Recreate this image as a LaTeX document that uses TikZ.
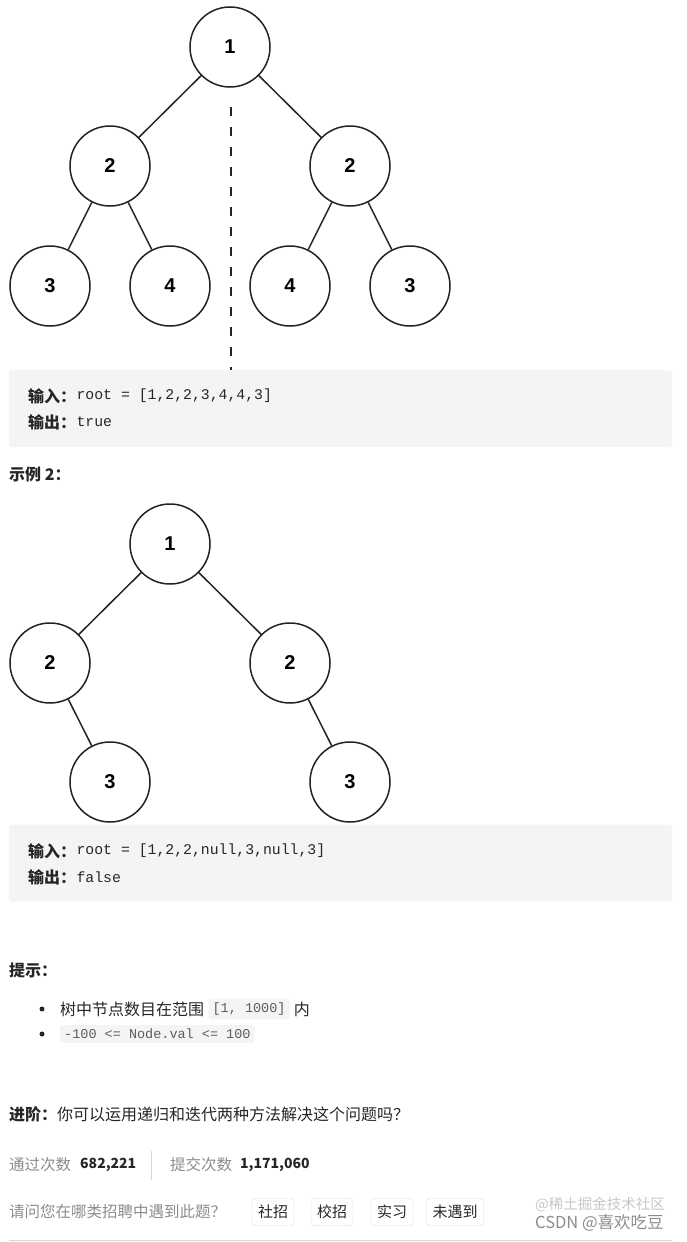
\documentclass[tikz,border=0pt]{standalone}
\usepackage{fontspec}
\setmainfont{Noto Sans CJK SC}
\setmonofont{Liberation Mono}
\newfontfamily\treefont{Liberation Sans}
\usetikzlibrary{positioning}
\definecolor{codebg}{RGB}{243,244,245}
\definecolor{ink}{RGB}{38,38,38}
\definecolor{mutedgray}{RGB}{140,140,140}
\definecolor{edgegray}{RGB}{35,35,35}
\definecolor{btnline}{RGB}{215,215,215}

\begin{document}
\begin{tikzpicture}[x=1pt, y=-1pt,
    tnode/.style={circle, draw=edgegray, line width=1.5pt, fill=white, minimum size=80pt, inner sep=0pt, font=\treefont\bfseries\fontsize{20}{20}\selectfont},
    edge/.style={draw=edgegray, line width=1.5pt},
    codebox/.style={fill=codebg, rounded corners=3pt, minimum width=663pt, minimum height=77pt, inner sep=0pt},
    txt/.style={anchor=west, inner sep=0pt, text=ink, font=\fontsize{16}{18}\selectfont},
    codetxt/.style={anchor=west, inner sep=0pt, text=ink, font=\ttfamily\fontsize{14.8}{16}\selectfont},
    small/.style={anchor=west, inner sep=0pt, text=ink, font=\fontsize{16}{18}\selectfont},
    muted/.style={anchor=west, inner sep=0pt, text=mutedgray, font=\fontsize{15.5}{18}\selectfont},
    num/.style={anchor=west, inner sep=0pt, text=ink, font=\bfseries\fontsize{14}{16}\selectfont},
    inlinecode/.style={fill=codebg, rounded corners=2pt, inner xsep=4pt, inner ysep=4pt, text=ink!75, font=\ttfamily\fontsize{13.5}{15}\selectfont},
    btn/.style={draw=btnline, rounded corners=3pt, minimum height=27pt, inner xsep=6pt, text=ink, font=\fontsize{15}{16}\selectfont},
    mirror/.style={draw=edgegray, line width=2.6pt, dash pattern=on 8.5pt off 11.5pt}
]
\useasboundingbox (0,0) rectangle (686,1242);

% Example 1 tree
\node[tnode] (root) at (230,47) {1};
\node[tnode] (lt) at (110,166) {2};
\node[tnode] (rt) at (350,166) {2};
\node[tnode] (ll) at (50,286) {3};
\node[tnode] (lr) at (170,286) {4};
\node[tnode] (rl) at (290,286) {4};
\node[tnode] (rr) at (410,286) {3};

\draw[edge] (root) -- (lt);
\draw[edge] (root) -- (rt);
\draw[edge] (lt) -- (ll);
\draw[edge] (lt) -- (lr);
\draw[edge] (rt) -- (rl);
\draw[edge] (rt) -- (rr);

% Mirror axis
\coordinate (axtop) at (231,107);
\coordinate (axbot) at (231,370);
\draw[mirror] (axtop) -- (axbot);

% Example 1 output
\node[codebox] (box1) at (340.5,408.5) {};
\node[txt] (in1) at (28,396) {\textbf{输入：}};
\node[codetxt, right=0pt of in1] (in1v) {root = [1,2,2,3,4,4,3]};
\node[txt] (out1) at (28,422) {\textbf{输出：}};
\node[codetxt, right=0pt of out1] (out1v) {true};

\node[txt] (ex2) at (9,474) {\textbf{示例 2：}};

% Example 2 tree
\node[tnode] (root2) at (170,544) {1};
\node[tnode] (lt2) at (50,663) {2};
\node[tnode] (rt2) at (290,663) {2};
\node[tnode] (lr2) at (110,782) {3};
\node[tnode] (rr2) at (350,782) {3};

\draw[edge] (root2) -- (lt2);
\draw[edge] (root2) -- (rt2);
\draw[edge] (lt2) -- (lr2);
\draw[edge] (rt2) -- (rr2);

% Example 2 output
\node[codebox] (box2) at (340.5,863) {};
\node[txt] (in2) at (28,851) {\textbf{输入：}};
\node[codetxt, right=0pt of in2] (in2v) {root = [1,2,2,null,3,null,3]};
\node[txt] (out2) at (28,877) {\textbf{输出：}};
\node[codetxt, right=0pt of out2] (out2v) {false};

% Hints
\node[txt] (hint) at (9,970) {\textbf{提示：}};
\node[circle, fill=ink, inner sep=0pt, minimum size=5pt] (dot1) at (42,1009) {};
\node[circle, fill=ink, inner sep=0pt, minimum size=5pt] (dot2) at (42,1034) {};
\node[small] (h1a) at (60,1009) {树中节点数目在范围};
\node[inlinecode, right=4pt of h1a] (h1b) {[1, 1000]};
\node[small, right=4pt of h1b] (h1c) {内};
\node[inlinecode, anchor=west] (h2) at (60,1034) {-100 <= Node.val <= 100};

% Follow-up
\node[txt] (adv) at (9,1114) {\textbf{进阶：}你可以运用递归和迭代两种方法解决这个问题吗？};

% Stats
\node[muted] (passlbl) at (9,1165) {通过次数};
\node[num] (passnum) at (80,1165) {682,221};
\coordinate (septop) at (151,1151);
\coordinate (sepbot) at (151,1180);
\draw[btnline, line width=0.8pt] (septop) -- (sepbot);
\node[muted] (sublbl) at (170,1165) {提交次数};
\node[num] (subnum) at (240,1165) {1,171,060};

% Survey row
\node[muted] (ask) at (9,1212) {请问您在哪类招聘中遇到此题？};
\node[btn] (b1) at (273,1212) {社招};
\node[btn] (b2) at (332,1212) {校招};
\node[btn] (b3) at (392,1212) {实习};
\node[btn] (b4) at (455,1212) {未遇到};

% Watermark
\node[anchor=west, inner sep=0pt, text=black!22, font=\fontsize{14.5}{16}\selectfont] (wm1) at (535,1205) {@稀土掘金技术社区};
\node[anchor=west, inner sep=0pt, text=black!45, font=\fontsize{16.5}{18}\selectfont] (wm2) at (535,1223) {CSDN @喜欢吃豆};

% Bottom rule
\coordinate (rulel) at (9,1240);
\coordinate (ruler) at (672,1240);
\draw[btnline, line width=0.6pt] (rulel) -- (ruler);

\end{tikzpicture}
\end{document}
